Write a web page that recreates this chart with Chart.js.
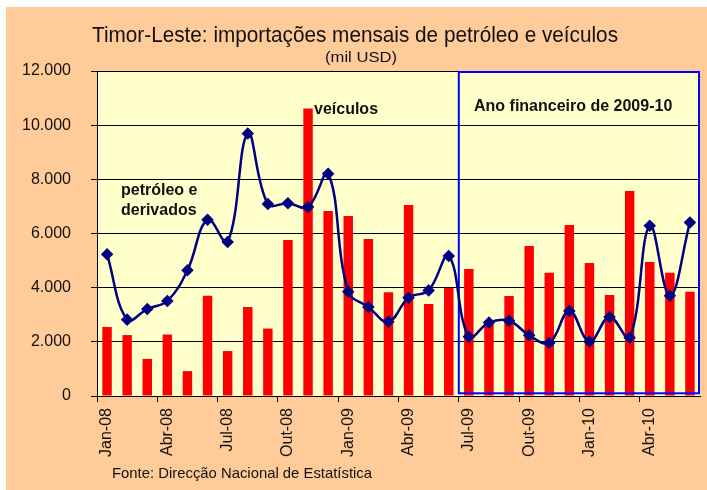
<!DOCTYPE html>
<html>
<head>
<meta charset="utf-8">
<script src="https://cdn.jsdelivr.net/npm/chart.js@4.4.1/dist/chart.umd.min.js"></script>
<style>
  body { margin: 0; background: #fff; }
  canvas { display: block; }
</style>
</head>
<body>
<canvas id="chart" width="707" height="490"></canvas>
<script>
// months Jan-08 .. Jun-10
var months = ['Jan-08','Fev-08','Mar-08','Abr-08','Mai-08','Jun-08','Jul-08','Ago-08','Set-08','Out-08','Nov-08','Dez-08',
              'Jan-09','Fev-09','Mar-09','Abr-09','Mai-09','Jun-09','Jul-09','Ago-09','Set-09','Out-09','Nov-09','Dez-09',
              'Jan-10','Fev-10','Mar-10','Abr-10','Mai-10','Jun-10'];

// veículos (mil USD)
var veiculos = [2550, 2250, 1370, 2270, 920, 3700, 1660, 3290, 2490, 5760, 10620, 6830,
                6650, 5800, 3830, 7050, 3400, 3990, 4690, 2750, 3690, 5540, 4550, 6310,
                4910, 3730, 7570, 4950, 4550, 3850];

// petróleo e derivados (mil USD)
var petroleo = [5230, 2820, 3210, 3510, 4640, 6510, 5690, 9690, 7090, 7120, 6980, 8210,
                3850, 3290, 2740, 3630, 3900, 5170, 2190, 2710, 2780, 2240, 1960, 3140,
                2010, 2920, 2150, 6290, 3700, 6410];

var yTicks = [0, 2000, 4000, 6000, 8000, 10000, 12000];

// first and last month of the "ano financeiro" box
var fyStart = 'Jul-09';
var fyEnd = 'Jun-10';

var FONT = "'Liberation Sans', Arial, sans-serif";
Chart.defaults.font.family = FONT;
Chart.defaults.color = '#111';

function fmt(v) {
    return String(v).replace(/\B(?=(\d{3})+(?!\d))/g, '.');
}

// draw text squeezed/stretched to a given width
function fitText(ctx, text, x, y, font, width, align) {
    ctx.save();
    ctx.font = font;
    var w = ctx.measureText(text).width;
    var s = width ? width / w : 1;
    ctx.textBaseline = 'alphabetic';
    ctx.textAlign = 'left';
    var left = x;
    if (align === 'center') left = x - (w * s) / 2;
    ctx.translate(left, y);
    ctx.scale(s, 1);
    ctx.fillText(text, 0, 0);
    ctx.restore();
}

var decor = {
    id: 'decor',
    beforeDraw: function(chart) {
        var ctx = chart.ctx, a = chart.chartArea;
        ctx.save();
        ctx.fillStyle = '#ffffff';
        ctx.fillRect(0, 0, chart.width, chart.height);
        ctx.fillStyle = '#FFCC99';
        ctx.fillRect(6, 7, chart.width - 6, chart.height - 7);
        ctx.fillStyle = '#FFFFCC';
        ctx.fillRect(a.left, a.top, a.right - a.left, a.bottom - a.top);
        ctx.restore();
    },
    afterDatasetDraw: function(chart, args) {
        if (args.index !== 0) return;
        var ctx = chart.ctx, x = chart.scales.x, y = chart.scales.y;
        var i0 = months.indexOf(fyStart), i1 = months.indexOf(fyEnd);
        var half = (x.getPixelForValue(1) - x.getPixelForValue(0)) / 2;
        var left = x.getPixelForValue(i0) - half;
        var right = x.getPixelForValue(i1) + half - 1;
        var top = y.getPixelForValue(12000) + 1;
        var bottom = y.getPixelForValue(100);
        ctx.save();
        ctx.strokeStyle = '#0000FF';
        ctx.lineWidth = 2;
        ctx.strokeRect(left, top, right - left, bottom - top);
        ctx.restore();
    },
    afterDraw: function(chart) {
        var ctx = chart.ctx;
        ctx.save();
        ctx.fillStyle = '#111';
        fitText(ctx, 'Timor-Leste: importações mensais de petróleo e veículos', 355, 42, '22px ' + FONT, 526, 'center');
        fitText(ctx, '(mil USD)', 361, 62, '15px ' + FONT, 72, 'center');
        fitText(ctx, 'Fonte: Direcção Nacional de Estatística', 112, 478, '15px ' + FONT, 260, 'left');
        var bold = 'bold 16px ' + FONT;
        fitText(ctx, 'veículos', 314, 114, bold, 0, 'left');
        fitText(ctx, 'petróleo e', 121, 195, bold, 0, 'left');
        fitText(ctx, 'derivados', 121, 215, bold, 0, 'left');
        fitText(ctx, 'Ano financeiro de 2009-10', 474, 111, bold, 0, 'left');
        ctx.restore();
    }
};

new Chart(document.getElementById('chart'), {
    type: 'bar',
    data: {
        labels: months,
        datasets: [{
            type: 'bar',
            label: 'veículos',
            data: veiculos,
            backgroundColor: '#FF0000',
            barPercentage: 0.47,
            categoryPercentage: 1,
            order: 1
        }, {
            type: 'line',
            label: 'petróleo e derivados',
            data: petroleo,
            borderColor: '#000080',
            borderWidth: 2.5,
            tension: 0.4,
            pointStyle: 'rectRot',
            pointRadius: 4.5,
            pointBackgroundColor: '#000080',
            pointBorderColor: '#000080',
            order: 0
        }]
    },
    options: {
        responsive: false,
        animation: false,
        layout: { padding: { top: 71, right: 1, left: 0, bottom: 0 } },
        plugins: { legend: { display: false }, tooltip: { enabled: false } },
        scales: {
            x: {
                offset: true,
                afterFit: function(s) { s.height = 94; s.paddingRight = 0; },
                grid: {
                    offset: true,
                    drawOnChartArea: false,
                    tickLength: 6,
                    color: function(c) { return c.index % 3 === 0 ? '#000' : 'rgba(0,0,0,0)'; }
                },
                border: { display: true, color: '#000', width: 1 },
                ticks: {
                    autoSkip: false,
                    maxRotation: 90,
                    minRotation: 90,
                    padding: 6,
                    font: { size: 16 },
                    color: '#111',
                    callback: function(v, i) { return i % 3 === 0 ? months[i] : ''; }
                }
            },
            y: {
                min: yTicks[0],
                max: yTicks[yTicks.length - 1],
                afterFit: function(s) { s.width = 97; },
                afterBuildTicks: function(s) { s.ticks = yTicks.map(function(v) { return { value: v }; }); },
                grid: { color: '#000', lineWidth: 1, tickLength: 6 },
                border: { display: true, color: '#000', width: 1 },
                ticks: {
                    padding: 20,
                    font: { size: 16 },
                    color: '#111',
                    callback: function(v) { return fmt(v); }
                }
            }
        }
    },
    plugins: [decor]
});
</script>
</body>
</html>
